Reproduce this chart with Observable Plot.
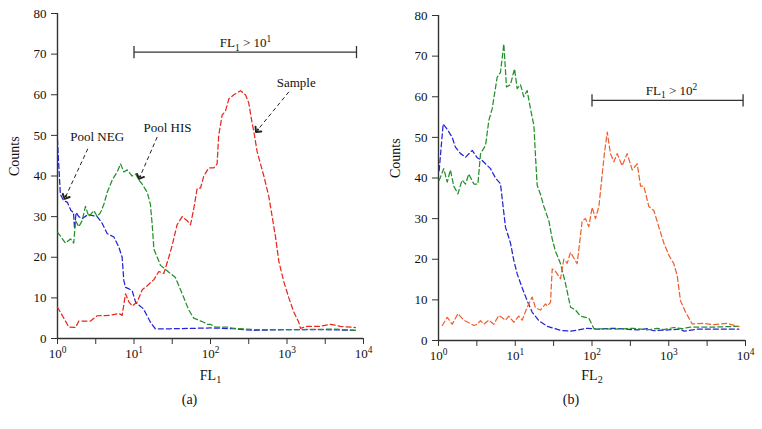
<!DOCTYPE html>
<html><head><meta charset="utf-8">
<script src="https://cdn.jsdelivr.net/npm/d3@7"></script>
<script src="https://cdn.jsdelivr.net/npm/@observablehq/plot@0.6"></script>
<style>
html,body{margin:0;padding:0;background:#fff;}
#wrap{display:flex;width:762px;height:429px;overflow:hidden;}
</style></head><body><div id="wrap"></div>
<script>
// ---------- Panel (a) : FL1 ----------
const aNegX = [1,1.03,1.09,1.2,1.35,1.5,1.62,1.67,1.75,1.9,2.1,2.5,3.3,3.8,4.47,5.46,6.34,7.0,7.36,7.74,8.6,9.46,10.5,13.3,16.4,19,30,60,100,200,368,600,1000,3000,7850];
const aNegY = [49,44,35.5,34,33.5,31.5,31,27,31,30,29.5,30.5,30,28.5,25.8,25,22.5,20,14.3,12.6,12.2,11.8,8.9,7.3,4,2.4,2.4,2.5,2.6,2.4,2.0,2.1,2.2,2.2,2.0];
const aHisX = [1,1.27,1.48,1.63,1.72,1.9,2.1,2.32,2.57,2.99,3.3,3.65,4.03,4.47,5.19,6.03,6.67,7.36,8.15,9.46,10.5,11.6,12.8,14.9,16.4,17.3,18.2,20.1,22.2,25.8,30,34.8,38.5,42.7,47.1,52,60.5,70.3,81.7,90.4,100,116,165,202,368,1500,4090,7850];
const aHisY = [26.2,23.5,24.5,23.5,29,27.5,29,32.5,30,31.5,30,31,33,36,39,41,43,41,41.5,40,40.5,39,38,36,33,28,22,20,18,17,16,15,13,11,9,7,5,4.5,4,3.5,3.5,2.8,2.8,2.5,2.2,2.2,2.3,2.0];
const aSamX = [1,1.41,1.72,1.9,2.7,3.3,4.93,6.34,7.0,7.74,8.57,9.46,11,12.8,14.9,18.2,21.1,24.5,28.5,31.6,36.6,42.7,49.5,54.8,60.5,67,74,81.8,95,110,122,128,142,157,174,202,247,286,316,350,368,407,450,498,578,640,708,782,908,1057,1227,1426,1500,1837,2742,3698,5000,7852];
const aSamY = [7.7,2.8,2.7,4.3,4.3,5.6,5.7,6.2,5.7,11,9,8,9,12,13,14.5,16.5,16,20,23,28,30,29,28,32,37,37,40,42,42,43,50,55,56,59,60,61,60,58,53,51,46,43,40,35,30,25,19,14,10,6.5,4,2.5,3,3,3.5,3,2.7];

// ---------- Panel (b) : FL2 ----------
const bNegX = [1.02,1.15,1.3,1.51,1.66,1.94,2.25,2.75,3.19,3.71,4.76,5.53,6.42,7.46,8.67,9.58,10.6,12.3,14.3,16.6,20.3,26.1,31.8,38.9,52.5,86.5,117,193,388,524,640,1422,1574,2344,8185];
const bNegY = [41.8,53.3,52,50,47.6,46,45.1,46.8,45,44.3,42.3,40,38.6,27.9,24,19.7,16.4,13,9.8,7,4.9,3.5,3,2.5,2.3,3,2.8,3,2.6,2.9,2.4,2.8,2.3,2.8,2.8];
const bHisX = [1.02,1.17,1.3,1.43,1.58,1.79,2.03,2.25,2.48,2.89,3.26,3.53,4.1,4.53,5.0,5.81,6.42,7.1,7.69,8.67,9.78,10.6,11.7,12.9,14.3,15.8,17.5,18.4,19.3,21.3,23.6,27.4,30.3,33.4,38.9,45.2,52.5,61,70.8,91,106,193,351,524,707,863,1164,1496,1920,3870,8185];
const bHisY = [39.4,42.3,39,42,38,36.1,39.5,38.5,41,38.5,38.5,46,48,54.2,57,64.8,66,73,62.4,63,66.9,62,63,60,61.5,57,52.9,45,38.2,36,33,29.5,25,22,18.9,14,8.2,7.5,6,5.5,2.9,2.8,3,2.6,3,2.7,3.2,2.9,3.3,3.3,3.5];
const bSamX = [1.12,1.3,1.51,1.79,2.14,2.89,3.19,3.53,3.89,4.53,5.26,6.11,7.46,8.24,9.58,11.1,12.3,14.3,16.6,18.4,21.3,24.8,26.1,28.8,30.3,33.4,38.9,42.9,47.5,52.5,64.1,74.5,82.3,91,100.5,111,123,136,145,158,174,193,213,247,287,334,388,429,473,550,640,743,863,1002,1164,1288,1422,1652,2018,2864,3870,5770,8185];
const bSamY = [3.7,5.7,4,6.6,5,3.7,4,4.9,4,5,4,6.2,5,6,4.5,6,5,8.2,10.7,8,7.5,9,8.5,9.4,17.6,17,15.2,20,19,21.7,18.9,29.5,30,28,32.8,30,33,41,46,51.3,46,44,46,43,46,42,43.5,38,38,33,32,27.9,24,21,18.9,16,9.8,7,4.1,4.2,3.9,4.2,3.4];

// ---------- Ticks / labels ----------
const majorTicks = [1, 10, 100, 1000, 10000];
const minorTicks = [3.162, 31.62, 316.2, 3162];
const yTicks = [0, 10, 20, 30, 40, 50, 60, 70, 80];
const sup = {"0": "⁰", "1": "¹", "2": "²", "3": "³", "4": "⁴"};

// annotations
const aLabels = [
  {x: 3.3, y: 49.6, text: "Pool NEG"},
  {x: 27.4, y: 51.8, text: "Pool HIS"},
  {x: 1320, y: 62.9, text: "Sample"},
  {x: 287, y: 72.7, text: "FL₁ > 10¹"}
];
const aArrows = [
  {x1: 2.49, y1: 46.7, x2: 1.27, y2: 34.8},
  {x1: 20.1, y1: 49.6, x2: 11.9, y2: 39.7},
  {x1: 1057, y1: 60.7, x2: 408, y2: 51.2}
];
const aGate = {x1: 10, x2: 8100, y: 70.5};

const bLabels = [
  {x: 1087, y: 61.5, text: "FL₁ > 10²"}
];
const bArrows = [];
const bGate = {x1: 100, x2: 9300, y: 59.1};

const colNeg = "#2323d8";
const colHis = "#23912a";
const colSamA = "#e8281e";
const colSamB = "#f0602e";
const ink = "#111";

function series(xs, ys) { return xs.map((x, i) => ({x, y: ys[i]})); }

function panel(o) {
  const heads = o.arrows.map(a => {
    const t = 0.96;
    const l1 = Math.log10(a.x1), l2 = Math.log10(a.x2);
    return {x1: 10 ** (l1 + t * (l2 - l1)), y1: a.y1 + t * (a.y2 - a.y1), x2: a.x2, y2: a.y2};
  });
  const g = o.gate;
  const caps = [{x: g.x1}, {x: g.x2}];
  const lineOpts = {x: "x", y: "y", strokeWidth: 1.25, strokeDasharray: "5,3"};
  return Plot.plot({
    width: 381, height: 429,
    marginTop: o.mt, marginBottom: o.mb, marginLeft: 57, marginRight: o.mr,
    x: {type: "log", domain: [1, 10000]},
    y: {domain: [0, 80]},
    style: {fontFamily: "'Liberation Serif', 'DejaVu Serif', serif", fontSize: "13px", color: "#333", background: "#fff"},
    marks: [
      Plot.axisY({ticks: yTicks, tickSize: 6, tickPadding: 5, label: null, fill: ink}),
      Plot.axisX({ticks: majorTicks, tickFormat: d => "10" + sup[String(Math.round(Math.log10(d)))], tickSize: 6, tickPadding: 4, label: null, fill: ink}),
      Plot.axisX({ticks: minorTicks, tickFormat: () => "", tickSize: 6, label: null}),
      Plot.ruleX([1], {stroke: "#333", strokeWidth: 1.4}),
      Plot.ruleY([0], {stroke: "#333", strokeWidth: 1.4}),
      Plot.line(series(o.negX, o.negY), {...lineOpts, stroke: colNeg}),
      Plot.line(series(o.hisX, o.hisY), {...lineOpts, stroke: colHis}),
      Plot.line(series(o.samX, o.samY), {...lineOpts, stroke: o.samCol}),
      Plot.link([g], {x1: "x1", x2: "x2", y1: "y", y2: "y", stroke: "#333", strokeWidth: 1.3}),
      Plot.link(caps, {x1: "x", x2: "x", y1: () => g.y - 1.5, y2: () => g.y + 1.5, stroke: "#333", strokeWidth: 1.3}),
      Plot.link(o.arrows, {x1: "x1", y1: "y1", x2: "x2", y2: "y2", stroke: "#222", strokeWidth: 1, strokeDasharray: "4,3"}),
      Plot.link(heads, {x1: "x1", y1: "y1", x2: "x2", y2: "y2", stroke: "#222", strokeWidth: 1.9, markerEnd: "arrow"}),
      Plot.text(o.labels, {x: "x", y: "y", text: "text", fill: ink}),
      Plot.text([o.xLabel], {frameAnchor: "bottom", dy: o.xlDy, text: d => d, fill: ink, fontSize: 14}),
      Plot.text([o.caption], {frameAnchor: "bottom", dx: -21, dy: o.capDy, text: d => d, fill: ink, fontSize: 14}),
      Plot.text(["Counts"], {frameAnchor: "left", dx: -43, rotate: -90, text: d => d, fill: ink, fontSize: 14})
    ]
  });
}

// Render unicode super/subscript digits as raised/lowered tspans (still real text)
const supChars = {"⁰": "0", "¹": "1", "²": "2", "³": "3", "⁴": "4"};
const subChars = {"₁": "1", "₂": "2"};
function typeset(svg) {
  const ns = "http://www.w3.org/2000/svg";
  svg.querySelectorAll("text").forEach(t => {
    if (t.querySelector("tspan")) return;
    const s = t.textContent;
    const chars = [...s];
    if (!chars.some(c => supChars[c] || subChars[c])) return;
    const fs = parseFloat(getComputedStyle(t).fontSize) || 13;
    const runs = [];
    for (const c of chars) {
      const kind = supChars[c] ? "sup" : subChars[c] ? "sub" : "n";
      const ch = supChars[c] || subChars[c] || c;
      if (runs.length && runs[runs.length - 1].kind === kind) runs[runs.length - 1].text += ch;
      else runs.push({kind, text: ch});
    }
    t.textContent = "";
    let cur = 0;
    for (const r of runs) {
      const target = r.kind === "sup" ? -0.38 * fs : r.kind === "sub" ? 0.28 * fs : 0;
      const ts = document.createElementNS(ns, "tspan");
      if (target !== cur) ts.setAttribute("dy", (target - cur).toFixed(2));
      if (r.kind !== "n") ts.setAttribute("font-size", (fs * 0.72).toFixed(1));
      ts.textContent = r.text;
      t.appendChild(ts);
      cur = target;
    }
  });
}

const wrap = document.getElementById("wrap");
const pa = panel({
  mt: 13, mb: 91, mr: 18,
  negX: aNegX, negY: aNegY, hisX: aHisX, hisY: aHisY, samX: aSamX, samY: aSamY, samCol: colSamA,
  labels: aLabels, arrows: aArrows, gate: aGate,
  xLabel: "FL₁", caption: "(a)", xlDy: 41, capDy: 65
});
const pb = panel({
  mt: 15, mb: 89, mr: 17,
  negX: bNegX, negY: bNegY, hisX: bHisX, hisY: bHisY, samX: bSamX, samY: bSamY, samCol: colSamB,
  labels: bLabels, arrows: bArrows, gate: bGate,
  xLabel: "FL₂", caption: "(b)", xlDy: 39, capDy: 63
});
wrap.appendChild(pa);
wrap.appendChild(pb);
typeset(pa);
typeset(pb);
</script>
</body></html>
